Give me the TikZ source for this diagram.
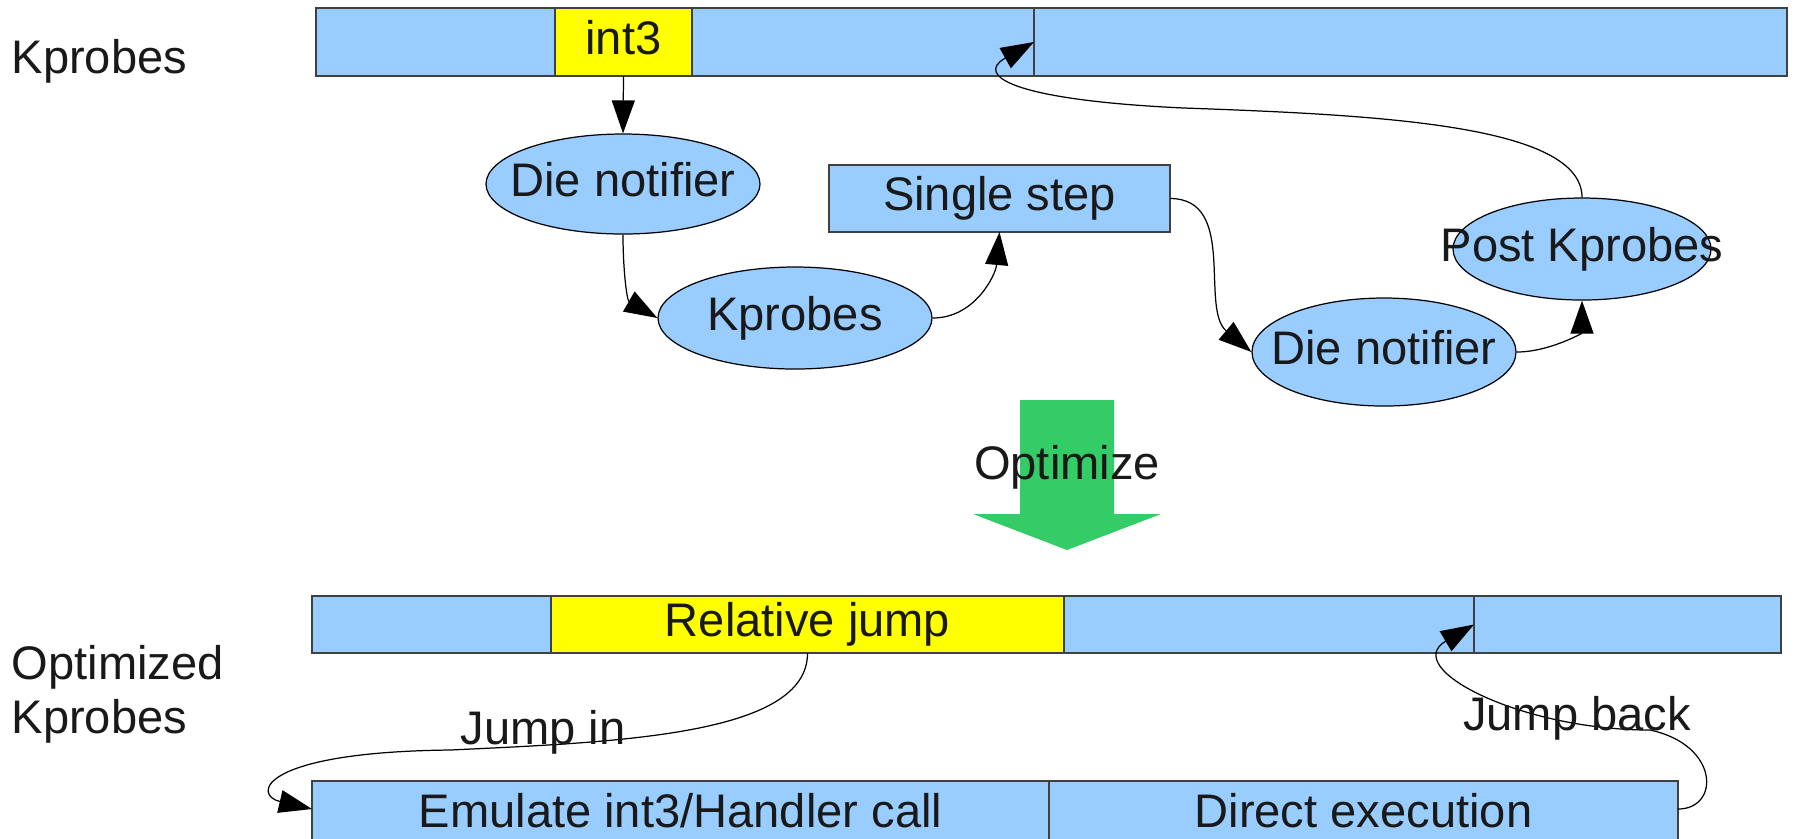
\documentclass[tikz,border=0pt]{standalone}
\usepackage{fontspec}
\setmainfont{Liberation Sans}
\usetikzlibrary{arrows.meta,positioning,shapes.geometric}

\definecolor{codeblue}{HTML}{99CCFF}
\definecolor{patchyellow}{HTML}{FFFF00}
\definecolor{optgreen}{HTML}{33CC66}
% text that may stick out of its ellipse
\newcommand{\nowide}[1]{\makebox[0pt]{#1}}

\begin{document}
\begin{tikzpicture}[
    x=0.1mm, y=-0.1mm,
    font=\fontsize{13.4}{15.4}\selectfont,
    node distance=0pt,
    flow/.style={-{Triangle[length=3.3mm,width=2.3mm]}, line width=0.35pt, draw=black},
    txt/.style={text height=0.905em, text depth=0.212em, text=black!90},
    seg/.style={txt, draw=black!75, fill=codeblue, line width=0.4pt, inner sep=0pt,
        outer sep=0pt, minimum height=6.8mm},
    patch/.style={seg, fill=patchyellow},
    lowseg/.style={seg, minimum height=5.7mm},
    lowpatch/.style={patch, minimum height=5.7mm},
    stepbox/.style={seg, minimum height=6.7mm, minimum width=34.1mm},
    proc/.style={txt, ellipse, draw=black, fill=codeblue, line width=0.35pt, inner sep=0pt},
    side/.style={anchor=west, align=left, inner sep=0pt, text=black!90},
    lbl/.style={txt}
]
\clip (0,0) rectangle (1794,838);

% original code with the breakpoint
\node[seg, anchor=north west, minimum width=23.9mm] (k1) at (316,8) {};
\node[patch, right=of k1, minimum width=13.7mm] (int3) {int3};
\node[seg, right=of int3, minimum width=34.2mm] (k2) {};
\node[seg, right=of k2, minimum width=75.3mm] (k3) {};
\node[side] (kplbl) at (11,61) {Kprobes};

% handling path
\node[proc, minimum width=27.4mm, minimum height=10mm] (die1) at (623,184) {\nowide{Die notifier}};
\node[proc, minimum width=27.4mm, minimum height=10.2mm] (kpb) at (795,318) {\nowide{Kprobes}};
\node[stepbox] (sstep) at (999.5,198.5) {Single step};
\node[proc, minimum width=26.4mm, minimum height=10.8mm] (die2) at (1384,352) {\nowide{Die notifier}};
\node[proc, minimum width=25.8mm, minimum height=10.2mm] (post) at (1582,249) {\nowide{Post Kprobes}};

\draw[flow] (int3.south) -- (die1.north);
\draw[flow] (die1.south) to[out=-90, in=150] (kpb.west);
\draw[flow] (kpb.east) to[out=0, in=-95] (sstep.south);
\draw[flow] (sstep.east) to[out=0, in=140] (die2.west);
\draw[flow] (die2.east) to[out=0, in=-90] (post.south);
\draw[flow] (post.north) .. controls (1582,125) and (1380,115) .. (1184,108)
    .. controls (1010,100) and (975,75) .. (k3.west);

% big arrow
\fill[optgreen] (1020,400) -- (1114,400) -- (1114,514) -- (1161,514)
    -- (1067,550) -- (973,514) -- (1020,514) -- cycle;
\node[lbl] (optlbl) at (1067,467) {Optimize};

% optimized code
\node[lowseg, anchor=north west, minimum width=23.9mm] (o1) at (312,596) {};
\node[lowpatch, right=of o1, minimum width=51.3mm] (reljmp) {Relative jump};
\node[lowseg, right=of reljmp, minimum width=41mm] (o2) {};
\node[lowseg, right=of o2, minimum width=30.7mm] (o3) {};
\node[side] (optkplbl) at (11,694) {Optimized\\Kprobes};

\node[seg, anchor=north west, minimum width=73.7mm] (emu) at (312,781) {Emulate int3/Handler call};
\node[seg, right=of emu, minimum width=62.9mm] (direct) {Direct execution};

\draw[flow] (reljmp.south) .. controls (808,735) and (620,742) .. (450,750)
    .. controls (260,752) and (252,795) .. ([yshift=0.6mm]emu.west);
\draw[flow] ([yshift=0.6mm]direct.east) .. controls (1720,809) and (1720,745) .. (1650,730)
    .. controls (1520,730) and (1400,668) .. (o3.west);
\node[lbl] (jin) at (543,732) {Jump in};
\node[lbl] (jback) at (1577,718) {Jump back};
\end{tikzpicture}
\end{document}
